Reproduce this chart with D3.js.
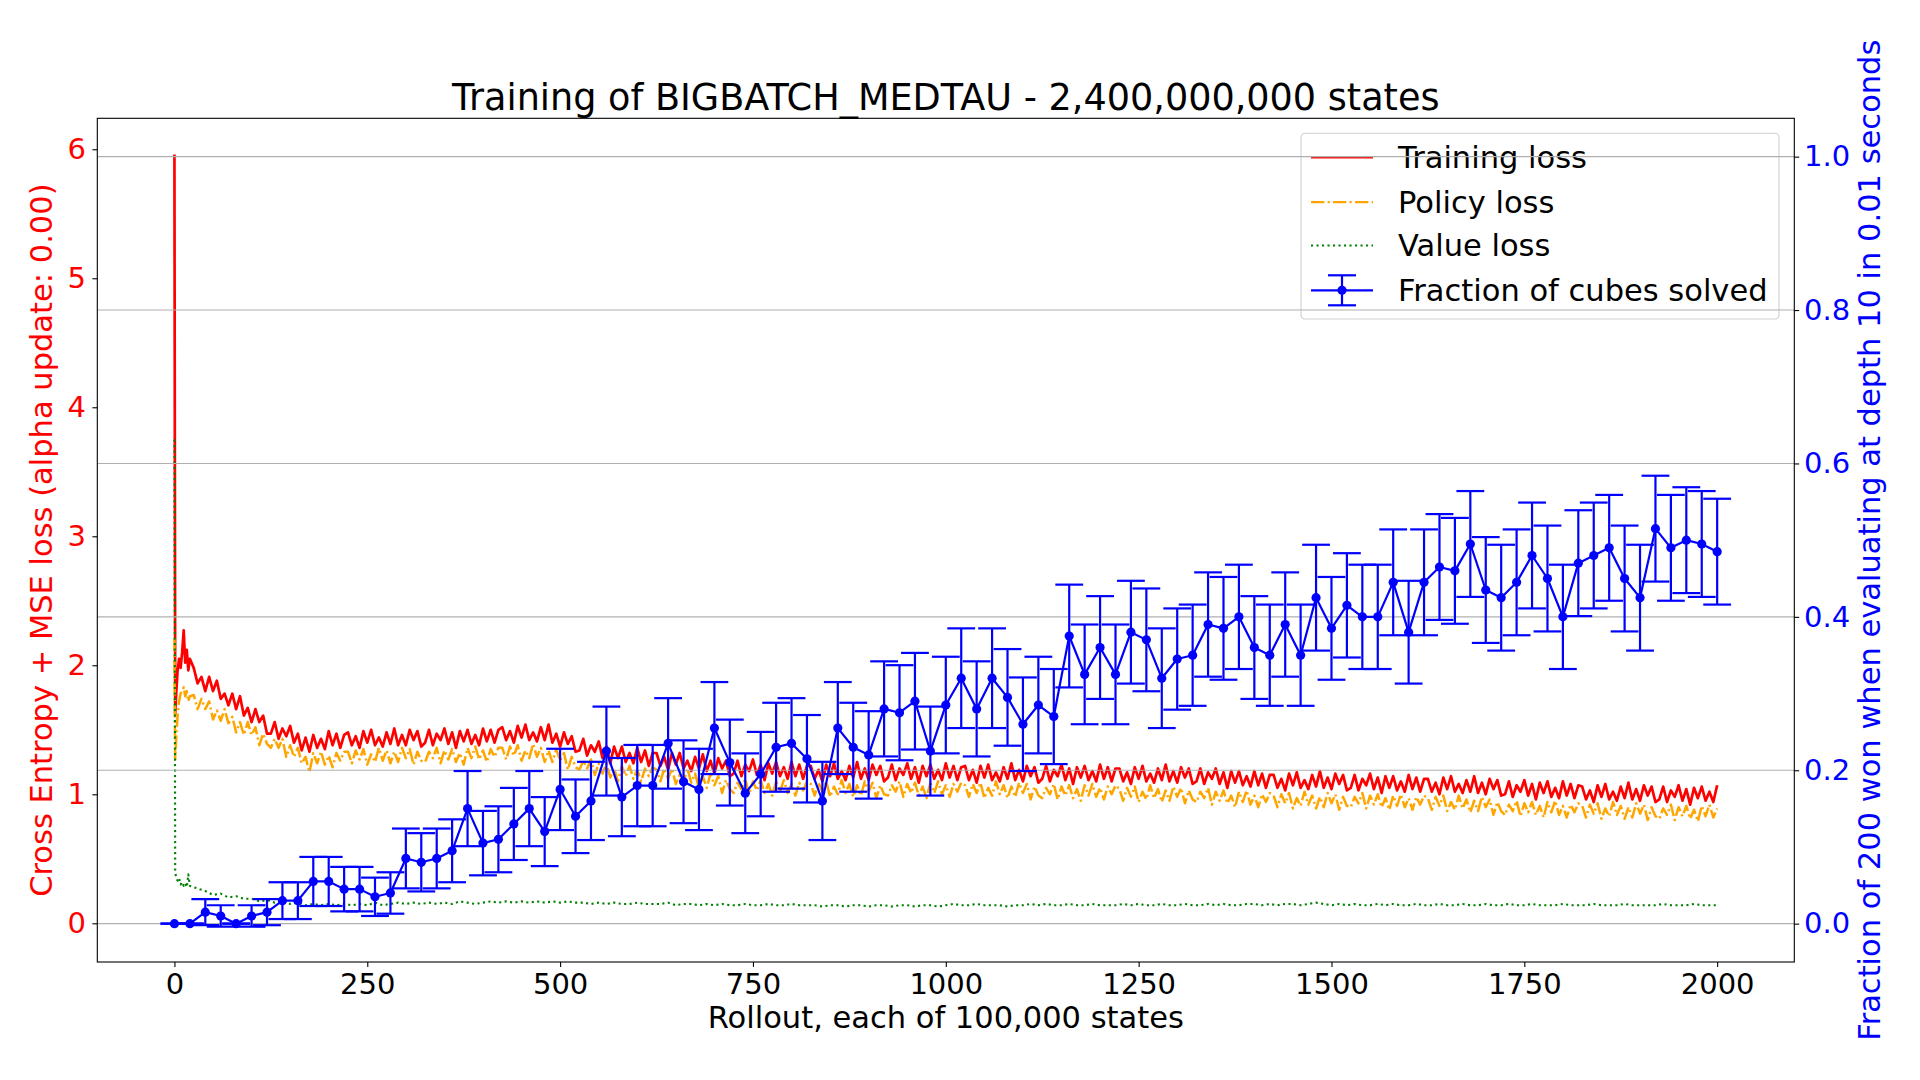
<!DOCTYPE html>
<html>
<head>
<meta charset="utf-8">
<script src="https://cdn.jsdelivr.net/npm/d3@7"></script>
<style>
  html, body { margin: 0; padding: 0; background: #fff; }
  svg { display: block; font-family: "DejaVu Sans", sans-serif; }
</style>
</head>
<body>
<svg id="chart" width="1920" height="1080"></svg>
<script>
// --- data --------------------------------------------------------------

// loss curves: first rollouts are sampled finer, then every 5 rollouts
const lossRollouts = [0, 1, 2, 4, 6, 8, 10, 12, 14, 16, 18, 20].concat(d3.range(25, 2001, 5));

const trainingLoss = [
  5.96, 1.62, 1.75, 1.95, 2.05, 1.98, 2.10, 2.27, 2.02, 2.12, 1.96, 2.05,
  1.98,1.86,1.91,1.80,1.91,1.80,1.88,1.74,1.78,1.69,1.78,1.66,1.76,1.61,1.67,1.56,1.66,1.56,1.61,1.47,
  1.47,1.56,1.43,1.51,1.45,1.53,1.40,1.47,1.34,1.44,1.33,1.46,1.36,1.43,1.35,1.49,1.38,1.47,1.36,1.46,
  1.48,1.38,1.45,1.36,1.49,1.40,1.50,1.38,1.44,1.37,1.48,1.39,1.51,1.38,1.46,1.38,1.50,1.42,1.49,1.37,
  1.40,1.50,1.38,1.47,1.42,1.51,1.39,1.48,1.36,1.49,1.41,1.50,1.39,1.46,1.38,1.51,1.41,1.50,1.40,1.50,
  1.52,1.42,1.49,1.40,1.53,1.44,1.54,1.42,1.48,1.41,1.52,1.42,1.54,1.40,1.47,1.37,1.48,1.39,1.45,1.33,
  1.34,1.43,1.30,1.38,1.33,1.41,1.28,1.37,1.24,1.37,1.28,1.37,1.25,1.32,1.24,1.36,1.25,1.34,1.22,1.32,
  1.32,1.22,1.29,1.19,1.32,1.23,1.32,1.20,1.26,1.18,1.29,1.20,1.31,1.18,1.26,1.16,1.28,1.20,1.26,1.14,
  1.16,1.26,1.14,1.23,1.18,1.27,1.15,1.23,1.11,1.24,1.16,1.25,1.14,1.21,1.12,1.25,1.14,1.23,1.12,1.22,
  1.22,1.12,1.19,1.10,1.23,1.14,1.24,1.12,1.18,1.11,1.22,1.13,1.25,1.12,1.20,1.11,1.23,1.15,1.22,1.10,
  1.13,1.23,1.11,1.20,1.15,1.24,1.12,1.21,1.09,1.22,1.14,1.23,1.12,1.19,1.11,1.24,1.13,1.22,1.11,1.21,
  1.22,1.11,1.19,1.09,1.22,1.13,1.23,1.11,1.17,1.10,1.21,1.12,1.24,1.11,1.19,1.10,1.22,1.14,1.21,1.09,
  1.12,1.22,1.10,1.19,1.14,1.23,1.11,1.20,1.08,1.21,1.13,1.22,1.11,1.18,1.10,1.23,1.12,1.21,1.10,1.20,
  1.20,1.10,1.17,1.08,1.21,1.12,1.22,1.10,1.16,1.09,1.20,1.11,1.23,1.10,1.18,1.09,1.21,1.13,1.20,1.08,
  1.10,1.20,1.08,1.17,1.12,1.20,1.08,1.17,1.05,1.18,1.09,1.18,1.07,1.14,1.06,1.18,1.07,1.16,1.05,1.15,
  1.15,1.05,1.12,1.03,1.16,1.07,1.17,1.05,1.11,1.04,1.15,1.06,1.18,1.05,1.13,1.04,1.16,1.08,1.15,1.03,
  1.05,1.15,1.03,1.12,1.07,1.16,1.04,1.13,1.01,1.14,1.05,1.14,1.03,1.10,1.02,1.15,1.04,1.13,1.02,1.12,
  1.12,1.02,1.09,1.00,1.13,1.04,1.14,1.02,1.08,1.01,1.11,1.02,1.14,1.01,1.09,1.00,1.12,1.04,1.11,0.99,
  1.00,1.10,0.98,1.07,1.02,1.11,0.99,1.08,0.96,1.09,1.01,1.10,0.98,1.05,0.97,1.10,0.99,1.08,0.97,1.07,
  1.06,0.96,1.03,0.94,1.07,0.98,1.08,0.96,1.02,0.95,1.06,0.97,1.09,0.96,1.04,0.95,1.07,0.99,1.06,0.94,
  0.96,1.06,0.94,1.03,0.98,1.07,0.95,1.04,0.92,1.05,0.97,1.06,0.95,1.02,0.94,1.07
];

const policyLoss = [
  2.21, 1.27, 1.40, 1.60, 1.72, 1.78, 1.80, 1.83, 1.76, 1.80, 1.72, 1.76,
  1.77,1.66,1.74,1.66,1.72,1.58,1.65,1.57,1.66,1.55,1.60,1.48,1.56,1.46,1.56,1.46,1.52,1.38,1.47,1.39,
  1.36,1.43,1.36,1.43,1.29,1.38,1.29,1.36,1.24,1.29,1.17,1.32,1.24,1.33,1.23,1.30,1.21,1.32,1.26,1.33,
  1.33,1.24,1.34,1.27,1.35,1.23,1.31,1.25,1.36,1.26,1.34,1.24,1.33,1.25,1.36,1.28,1.35,1.23,1.33,1.26,
  1.25,1.33,1.28,1.36,1.24,1.34,1.27,1.35,1.25,1.32,1.23,1.36,1.28,1.37,1.27,1.34,1.25,1.35,1.29,1.36,
  1.36,1.27,1.37,1.30,1.38,1.26,1.34,1.28,1.39,1.29,1.36,1.25,1.34,1.25,1.35,1.26,1.32,1.19,1.29,1.21,
  1.19,1.26,1.20,1.27,1.15,1.24,1.16,1.24,1.13,1.20,1.10,1.22,1.14,1.22,1.12,1.19,1.10,1.20,1.14,1.21,
  1.19,1.10,1.20,1.12,1.20,1.08,1.15,1.09,1.20,1.09,1.16,1.05,1.14,1.05,1.16,1.07,1.14,1.01,1.11,1.04,
  1.01,1.09,1.04,1.12,1.00,1.10,1.03,1.11,1.01,1.08,0.99,1.10,1.02,1.11,1.01,1.08,0.99,1.09,1.03,1.10,
  1.08,0.99,1.09,1.02,1.10,0.98,1.06,1.00,1.11,1.01,1.08,0.98,1.07,0.99,1.10,1.02,1.09,0.97,1.07,1.00,
  0.99,1.07,1.02,1.10,0.98,1.08,1.01,1.09,0.99,1.06,0.97,1.09,1.01,1.10,1.00,1.07,0.98,1.08,1.02,1.09,
  1.07,0.98,1.08,1.01,1.09,0.97,1.05,0.99,1.10,1.00,1.07,0.97,1.06,0.98,1.09,1.01,1.08,0.96,1.06,0.99,
  0.97,1.05,1.00,1.08,0.96,1.06,0.99,1.07,0.97,1.04,0.95,1.07,0.99,1.08,0.98,1.05,0.96,1.06,1.00,1.07,
  1.04,0.95,1.05,0.98,1.06,0.94,1.02,0.96,1.07,0.97,1.04,0.94,1.03,0.95,1.06,0.98,1.05,0.93,1.03,0.96,
  0.94,1.02,0.97,1.05,0.92,1.02,0.95,1.03,0.93,0.99,0.90,1.02,0.94,1.03,0.92,0.99,0.90,1.00,0.94,1.01,
  0.99,0.90,1.00,0.93,1.01,0.89,0.97,0.91,1.02,0.92,0.99,0.89,0.98,0.90,1.01,0.93,1.00,0.88,0.98,0.91,
  0.90,0.98,0.93,1.01,0.89,0.99,0.92,1.00,0.90,0.97,0.88,0.99,0.91,1.00,0.90,0.97,0.88,0.98,0.92,0.99,
  0.97,0.88,0.98,0.91,0.99,0.87,0.94,0.88,0.99,0.89,0.96,0.86,0.95,0.87,0.98,0.90,0.96,0.84,0.94,0.87,
  0.84,0.92,0.87,0.95,0.83,0.93,0.86,0.94,0.84,0.91,0.82,0.94,0.86,0.95,0.84,0.91,0.82,0.92,0.86,0.93,
  0.91,0.82,0.92,0.85,0.93,0.81,0.89,0.83,0.94,0.84,0.91,0.81,0.90,0.82,0.93,0.85,0.92,0.80,0.90,0.83,
  0.81,0.89,0.84,0.92,0.80,0.90,0.83,0.91,0.81,0.88,0.79,0.91,0.83,0.92,0.82,0.89
];

// value loss: finer at the start, then every 10 rollouts
const valueRollouts = [0, 1, 2, 4, 6, 8, 10, 12, 14, 16, 18, 20].concat(d3.range(30, 2001, 10));

const valueLoss = [
  3.75, 0.40, 0.36, 0.33, 0.35, 0.30, 0.32, 0.29, 0.31, 0.28, 0.38, 0.29,
  0.27,0.25,0.22,0.23,0.20,0.21,0.19,0.19,0.17,0.18,
  0.16,0.17,0.15,0.16,0.14,0.15,0.14,0.15,0.14,0.15,
  0.14,0.15,0.14,0.16,0.14,0.15,0.16,0.15,0.16,0.15,
  0.16,0.15,0.16,0.15,0.17,0.16,0.15,0.16,0.17,0.16,
  0.17,0.16,0.17,0.16,0.17,0.16,0.17,0.16,0.17,0.16,
  0.16,0.15,0.16,0.15,0.16,0.15,0.15,0.16,0.15,0.15,
  0.15,0.16,0.14,0.15,0.15,0.14,0.15,0.14,0.15,0.14,
  0.14,0.15,0.14,0.14,0.15,0.14,0.14,0.15,0.14,0.14,
  0.14,0.13,0.14,0.14,0.13,0.14,0.14,0.13,0.14,0.14,
  0.13,0.14,0.14,0.13,0.14,0.14,0.13,0.14,0.15,0.14,
  0.14,0.15,0.14,0.14,0.14,0.13,0.14,0.14,0.15,0.14,
  0.15,0.14,0.14,0.15,0.14,0.14,0.15,0.14,0.14,0.14,
  0.15,0.14,0.15,0.14,0.14,0.15,0.14,0.14,0.15,0.14,
  0.14,0.15,0.14,0.15,0.14,0.14,0.15,0.15,0.14,0.15,
  0.14,0.15,0.15,0.14,0.15,0.16,0.15,0.14,0.15,0.14,
  0.15,0.14,0.14,0.15,0.14,0.15,0.14,0.14,0.15,0.14,
  0.14,0.15,0.14,0.14,0.15,0.14,0.14,0.15,0.14,0.14,
  0.15,0.14,0.14,0.15,0.14,0.14,0.14,0.15,0.14,0.14,
  0.14,0.15,0.14,0.14,0.14,0.15,0.14,0.14,0.14,0.14,
  0.15,0.14,0.14,0.14,0.15,0.14,0.14,0.14
];

// evaluation every 20 rollouts
const evalRollouts = d3.range(0, 2001, 20);

const solvedFraction = [
  0.000, 0.000, 0.015, 0.010, 0.000, 0.010, 0.015, 0.030, 0.030, 0.055,
  0.055, 0.045, 0.045, 0.035, 0.040, 0.085, 0.080, 0.085, 0.095, 0.150,
  0.105, 0.110, 0.130, 0.150, 0.120, 0.175, 0.140, 0.160, 0.225, 0.165,
  0.180, 0.180, 0.235, 0.185, 0.175, 0.255, 0.210, 0.170, 0.195, 0.230,
  0.235, 0.215, 0.160, 0.255, 0.230, 0.220, 0.280, 0.275, 0.290, 0.225,
  0.285, 0.320, 0.280, 0.320, 0.295, 0.260, 0.285, 0.270, 0.375, 0.325,
  0.360, 0.325, 0.380, 0.370, 0.320, 0.345, 0.350, 0.390, 0.385, 0.400,
  0.360, 0.350, 0.390, 0.350, 0.425, 0.385, 0.415, 0.400, 0.400, 0.445,
  0.380, 0.445, 0.465, 0.460, 0.495, 0.435, 0.425, 0.445, 0.480, 0.450,
  0.400, 0.470, 0.480, 0.490, 0.450, 0.425, 0.515, 0.490, 0.500, 0.495,
  0.485
];

const solvedError = [
  0.000, 0.000, 0.017, 0.014, 0.000, 0.014, 0.017, 0.024, 0.024, 0.032,
  0.032, 0.029, 0.029, 0.025, 0.027, 0.039, 0.038, 0.039, 0.041, 0.049,
  0.042, 0.043, 0.047, 0.049, 0.045, 0.053, 0.048, 0.051, 0.058, 0.051,
  0.053, 0.053, 0.059, 0.054, 0.053, 0.060, 0.056, 0.052, 0.055, 0.058,
  0.059, 0.057, 0.051, 0.060, 0.058, 0.057, 0.062, 0.062, 0.063, 0.058,
  0.063, 0.065, 0.062, 0.065, 0.063, 0.061, 0.063, 0.062, 0.067, 0.065,
  0.067, 0.065, 0.067, 0.067, 0.065, 0.066, 0.066, 0.068, 0.067, 0.068,
  0.067, 0.066, 0.068, 0.066, 0.069, 0.067, 0.068, 0.068, 0.068, 0.069,
  0.067, 0.069, 0.069, 0.069, 0.069, 0.069, 0.069, 0.069, 0.069, 0.069,
  0.068, 0.069, 0.069, 0.069, 0.069, 0.069, 0.069, 0.069, 0.069, 0.069,
  0.069
];

const xTicks = [0, 250, 500, 750, 1000, 1250, 1500, 1750, 2000];
const lossTicks = [0, 1, 2, 3, 4, 5, 6];
const fracTicks = [0, 0.2, 0.4, 0.6, 0.8, 1.0];

const legendLabels = ["Training loss", "Policy loss", "Value loss", "Fraction of cubes solved"];

// --- layout ---------------------------------------------------------------

const FS = 30.5;      // labels, legend
const TICK_FS = 29;   // tick labels
const plot = { left: 97.3, right: 1794.3, top: 118.3, bottom: 962 };
const cx = (plot.left + plot.right) / 2, cy = (plot.top + plot.bottom) / 2;

const svg = d3.select("#chart");

const x = d3.scaleLinear().domain([-100, 2100]).range([plot.left, plot.right]);
const yLoss = d3.scaleLinear().domain([-0.30, 6.24]).range([plot.bottom, plot.top]);
const yFrac = d3.scaleLinear().domain([-0.05, 1.05]).range([plot.bottom, plot.top]);

const zip = (xs, ys) => xs.map((v, i) => [v, ys[i]]);

svg.append("defs").append("clipPath").attr("id", "plot-clip")
  .append("rect")
    .attr("x", plot.left).attr("y", plot.top)
    .attr("width", plot.right - plot.left).attr("height", plot.bottom - plot.top);

// --- left axis series (drawn first, like the base axes) -------------------

const lossLine = d3.line().x((d) => x(d[0])).y((d) => yLoss(d[1]));
const gLoss = svg.append("g").attr("clip-path", "url(#plot-clip)");

// the source lines hold ~2000 samples each and read as solid bands;
// a slightly heavier stroke keeps the thinner sampling looking that way
const lossSeries = [
  { data: zip(lossRollouts, trainingLoss), color: "red", dash: null, w: 2.7 },
  { data: zip(lossRollouts, policyLoss), color: "orange", dash: "13.3,3.3,2.1,3.3", w: 2.5 },
  { data: zip(valueRollouts, valueLoss), color: "green", dash: "2.1,3.4", w: 2.1 }
];

gLoss.selectAll("path")
  .data(lossSeries)
  .join("path")
    .attr("d", (s) => lossLine(s.data))
    .attr("fill", "none")
    .attr("stroke", (s) => s.color)
    .attr("stroke-width", (s) => s.w)
    .attr("stroke-linejoin", "round")
    .attr("stroke-dasharray", (s) => s.dash);

// --- legend (belongs to the base axes, so the twin grid runs over it) ----

const lg = svg.append("g").attr("transform", "translate(1301,133.3)");
lg.append("rect")
  .attr("width", 478).attr("height", 185.7).attr("rx", 4)
  .attr("fill", "#fff").attr("fill-opacity", 0.8)
  .attr("stroke", "#d0d0d0").attr("stroke-width", 1.1);

const rowY = [24.1, 68.8, 112.2, 157];
legendLabels.forEach((label, i) => {
  const yy = rowY[i];
  if (i < 3) {
    lg.append("line")
      .attr("x1", 10).attr("x2", 72).attr("y1", yy).attr("y2", yy)
      .attr("stroke", lossSeries[i].color).attr("stroke-width", 2.1)
      .attr("stroke-dasharray", lossSeries[i].dash);
  } else {
    lg.append("line").attr("x1", 10).attr("x2", 72).attr("y1", yy).attr("y2", yy)
      .attr("stroke", "blue").attr("stroke-width", 2.2);
    lg.append("line").attr("x1", 41).attr("x2", 41).attr("y1", yy - 15).attr("y2", yy + 15)
      .attr("stroke", "blue").attr("stroke-width", 2.2);
    [yy - 15, yy + 15].forEach((cyy) => {
      lg.append("line").attr("x1", 27).attr("x2", 55).attr("y1", cyy).attr("y2", cyy)
        .attr("stroke", "blue").attr("stroke-width", 2.2);
    });
    lg.append("circle").attr("cx", 41).attr("cy", yy).attr("r", 4.6).attr("fill", "blue");
  }
  lg.append("text")
    .attr("x", 97).attr("y", yy + 10.8)
    .attr("font-size", FS).attr("fill", "#000")
    .text(label);
});

// --- twin axes: grid + solved fraction ------------------------------------

svg.append("g").selectAll("line")
  .data(fracTicks)
  .join("line")
    .attr("x1", plot.left).attr("x2", plot.right)
    .attr("y1", (d) => yFrac(d)).attr("y2", (d) => yFrac(d))
    .attr("stroke", "#b0b0b0").attr("stroke-width", 1.1);

const evalData = evalRollouts.map((r, i) => ({ r, v: solvedFraction[i], e: solvedError[i] }));
const gEval = svg.append("g").attr("clip-path", "url(#plot-clip)");
const cap = 13.9;

const bars = gEval.selectAll("g.bar").data(evalData).join("g").attr("class", "bar");
bars.append("line")
  .attr("x1", (d) => x(d.r)).attr("x2", (d) => x(d.r))
  .attr("y1", (d) => yFrac(d.v - d.e)).attr("y2", (d) => yFrac(d.v + d.e))
  .attr("stroke", "blue").attr("stroke-width", 2.2);
bars.append("line")
  .attr("x1", (d) => x(d.r) - cap).attr("x2", (d) => x(d.r) + cap)
  .attr("y1", (d) => yFrac(d.v + d.e)).attr("y2", (d) => yFrac(d.v + d.e))
  .attr("stroke", "blue").attr("stroke-width", 2.2);
bars.append("line")
  .attr("x1", (d) => x(d.r) - cap).attr("x2", (d) => x(d.r) + cap)
  .attr("y1", (d) => yFrac(d.v - d.e)).attr("y2", (d) => yFrac(d.v - d.e))
  .attr("stroke", "blue").attr("stroke-width", 2.2);

gEval.append("path")
  .attr("d", d3.line().x((d) => x(d.r)).y((d) => yFrac(d.v))(evalData))
  .attr("fill", "none").attr("stroke", "blue").attr("stroke-width", 2.2)
  .attr("stroke-linejoin", "round");

gEval.selectAll("circle")
  .data(evalData)
  .join("circle")
    .attr("cx", (d) => x(d.r)).attr("cy", (d) => yFrac(d.v))
    .attr("r", 4.6).attr("fill", "blue");

// --- spines and axes --------------------------------------------------------

svg.append("rect")
  .attr("x", plot.left).attr("y", plot.top)
  .attr("width", plot.right - plot.left).attr("height", plot.bottom - plot.top)
  .attr("fill", "none").attr("stroke", "#000").attr("stroke-width", 1.1);

function styleAxis(g, color) {
  g.select(".domain").remove();
  g.selectAll(".tick line").attr("stroke", "#000").attr("stroke-width", 1.1);
  g.selectAll(".tick text")
    .attr("font-size", TICK_FS).attr("font-family", "DejaVu Sans, sans-serif")
    .attr("fill", color);
}

svg.append("g")
  .attr("transform", `translate(0,${plot.bottom})`)
  .call(d3.axisBottom(x).tickValues(xTicks).tickFormat(d3.format("d"))
    .tickSize(4.9).tickPadding(7))
  .call((g) => styleAxis(g, "#000"));

svg.append("g")
  .attr("transform", `translate(${plot.left},0)`)
  .call(d3.axisLeft(yLoss).tickValues(lossTicks).tickFormat(d3.format("d"))
    .tickSize(4.9).tickPadding(6.4))
  .call((g) => styleAxis(g, "red"));

svg.append("g")
  .attr("transform", `translate(${plot.right},0)`)
  .call(d3.axisRight(yFrac).tickValues(fracTicks).tickFormat(d3.format(".1f"))
    .tickSize(4.9).tickPadding(4.8))
  .call((g) => styleAxis(g, "blue"));

// --- titles -----------------------------------------------------------------

svg.append("text")
  .attr("x", cx).attr("y", 109.5)
  .attr("text-anchor", "middle").attr("font-size", 36.6).attr("fill", "#000")
  .text("Training of BIGBATCH_MEDTAU - 2,400,000,000 states");

svg.append("text")
  .attr("x", cx).attr("y", 1028)
  .attr("text-anchor", "middle").attr("font-size", FS).attr("fill", "#000")
  .text("Rollout, each of 100,000 states");

svg.append("text")
  .attr("transform", `translate(52,${cy}) rotate(-90)`)
  .attr("text-anchor", "middle").attr("font-size", FS).attr("fill", "red")
  .text("Cross Entropy + MSE loss (alpha update: 0.00)");

svg.append("text")
  .attr("transform", `translate(1880,${cy}) rotate(-90)`)
  .attr("text-anchor", "middle").attr("font-size", FS).attr("fill", "blue")
  .text("Fraction of 200 won when evaluating at depth 10 in 0.01 seconds");
</script>
</body>
</html>
